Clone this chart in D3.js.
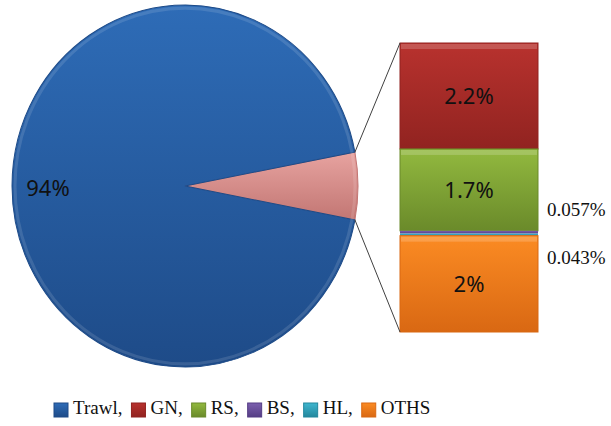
<!DOCTYPE html>
<html>
<head>
<meta charset="utf-8">
<script src="https://cdn.jsdelivr.net/npm/d3@7"></script>
<style>
  body { margin: 0; background: #fff; }
  svg { display: block; }
</style>
</head>
<body>
<svg id="chart" width="611" height="426"></svg>
<script>
// pie part: Trawl vs. the group broken out into the bar
const pieNames = ['Other', 'Trawl']
const pieValues = [6, 94]
const pieLabels = ['', '94%']

// bar part (stacked, top to bottom)
const barNames = ['GN', 'RS', 'BS', 'HL', 'OTHS']
const barValues = [2.2, 1.7, 0.057, 0.043, 2]
const barLabels = ['2.2%', '1.7%', '0.057%', '0.043%', '2%']

const legendNames = ['Trawl', 'GN', 'RS', 'BS', 'HL', 'OTHS']

const colors = {
  Trawl: ['#2e6cb7', '#1e4b88'],
  Other: ['#e7a3a0', '#c27673'],
  GN: ['#b8322e', '#912320'],
  RS: ['#92b93f', '#6a8a2a'],
  BS: ['#7b5fae', '#553d85'],
  HL: ['#3fb6cf', '#23879d'],
  OTHS: ['#fb8b23', '#d96813']
}

const svg = d3.select('#chart')
const defs = svg.append('defs')

Object.keys(colors).forEach(k => {
  const g = defs.append('linearGradient')
    .attr('id', 'g-' + k)
    .attr('x1', 0).attr('y1', 0).attr('x2', 0).attr('y2', 1)
  g.append('stop').attr('offset', '0%').attr('stop-color', colors[k][0])
  g.append('stop').attr('offset', '100%').attr('stop-color', colors[k][1])
})

// ---- pie ----
const cx = 185, cy = 186, rx = 173, ry = 181
const otherShare = pieValues[0] / d3.sum(pieValues)
const start = Math.PI / 2 - otherShare * Math.PI

const pie = d3.pie()
  .sort(null)
  .value(d => d)
  .startAngle(start)
  .endAngle(start + 2 * Math.PI)
const arcs = pie(pieValues)

const arc = d3.arc().innerRadius(0).outerRadius(rx)

const pieG = svg.append('g')
  .attr('transform', `translate(${cx},${cy}) scale(1,${ry / rx})`)

pieG.selectAll('path.slice')
  .data(arcs)
  .enter()
  .append('path')
  .attr('class', 'slice')
  .attr('d', arc)
  .attr('fill', (d, i) => `url(#g-${pieNames[i]})`)
  .attr('stroke', (d, i) => colors[pieNames[i]][1])
  .attr('stroke-width', 1)

// soft bevel on the rim
pieG.append('ellipse')
  .attr('rx', rx - 3).attr('ry', rx - 3)
  .attr('fill', 'none')
  .attr('stroke', 'rgba(255,255,255,0.12)')
  .attr('stroke-width', 3)

svg.append('text')
  .attr('x', 48)
  .attr('y', 190)
  .attr('text-anchor', 'middle')
  .attr('dominant-baseline', 'middle')
  .attr('font-family', 'Noto Sans, sans-serif')
  .attr('font-size', 22)
  .attr('fill', '#111')
  .text(pieLabels[1])

// ---- bar ----
const barX = 400, barW = 138
const y = d3.scaleLinear()
  .domain([0, d3.sum(barValues)])
  .range([43, 332])

const stacked = []
let acc = 0
barValues.forEach((v, i) => {
  stacked.push({ name: barNames[i], v0: acc, v1: acc + v, label: barLabels[i] })
  acc += v
})

svg.selectAll('rect.seg')
  .data(stacked)
  .enter()
  .append('rect')
  .attr('class', 'seg')
  .attr('x', barX)
  .attr('y', d => y(d.v0))
  .attr('width', barW)
  .attr('height', d => y(d.v1) - y(d.v0))
  .attr('fill', d => `url(#g-${d.name})`)
  .attr('stroke', d => colors[d.name][1])
  .attr('stroke-width', d => (d.v1 - d.v0) > 0.5 ? 1 : 0)

// light top edge on the big segments
svg.selectAll('rect.hl')
  .data(stacked.filter(d => d.v1 - d.v0 > 0.5))
  .enter()
  .append('rect')
  .attr('class', 'hl')
  .attr('x', barX + 1)
  .attr('y', d => y(d.v0) + 1)
  .attr('width', barW - 2)
  .attr('height', 5)
  .attr('fill', 'rgba(255,255,255,0.18)')

svg.selectAll('text.inbar')
  .data(stacked.filter(d => d.v1 - d.v0 > 0.5))
  .enter()
  .append('text')
  .attr('class', 'inbar')
  .attr('x', barX + barW / 2)
  .attr('y', d => (y(d.v0) + y(d.v1)) / 2 + 2)
  .attr('text-anchor', 'middle')
  .attr('dominant-baseline', 'middle')
  .attr('font-family', 'Noto Sans, sans-serif')
  .attr('font-size', 22)
  .attr('fill', '#111')
  .text(d => d.label)

// small shares written beside the bar
const small = stacked.filter(d => d.v1 - d.v0 < 0.5)
svg.selectAll('text.side')
  .data(small)
  .enter()
  .append('text')
  .attr('class', 'side')
  .attr('x', 547)
  .attr('y', (d, i) => i === 0 ? 216 : 264)
  .attr('font-family', 'Liberation Serif, Times New Roman, serif')
  .attr('font-size', 19)
  .attr('fill', '#111')
  .text(d => d.label)

// ---- connector lines ----
const edge = a => [cx + rx * Math.sin(a), cy - ry * Math.cos(a)]
const pOther = arcs[0]
const p1 = edge(pOther.startAngle)
const p2 = edge(pOther.endAngle)
svg.append('line')
  .attr('x1', p1[0]).attr('y1', p1[1])
  .attr('x2', barX).attr('y2', y(0))
  .attr('stroke', '#404040').attr('stroke-width', 1)
svg.append('line')
  .attr('x1', p2[0]).attr('y1', p2[1])
  .attr('x2', barX).attr('y2', y(d3.sum(barValues)))
  .attr('stroke', '#404040').attr('stroke-width', 1)

// ---- legend ----
const legend = svg.append('g').attr('transform', 'translate(54,410)')
let lx = 0
legendNames.forEach((n, i) => {
  const item = legend.append('g').attr('transform', `translate(${lx},0)`)
  item.append('rect')
    .attr('x', 0).attr('y', -7)
    .attr('width', 14).attr('height', 14)
    .attr('fill', `url(#g-${n})`)
    .attr('stroke', colors[n][1])
  const t = item.append('text')
    .attr('x', 19)
    .attr('y', 0)
    .attr('dominant-baseline', 'middle')
    .attr('font-family', 'Liberation Serif, Times New Roman, serif')
    .attr('font-size', 19)
    .attr('fill', '#111')
    .text(i < legendNames.length - 1 ? n + ',' : n)
  lx += 19 + t.node().getComputedTextLength() + 9
})
</script>
</body>
</html>
